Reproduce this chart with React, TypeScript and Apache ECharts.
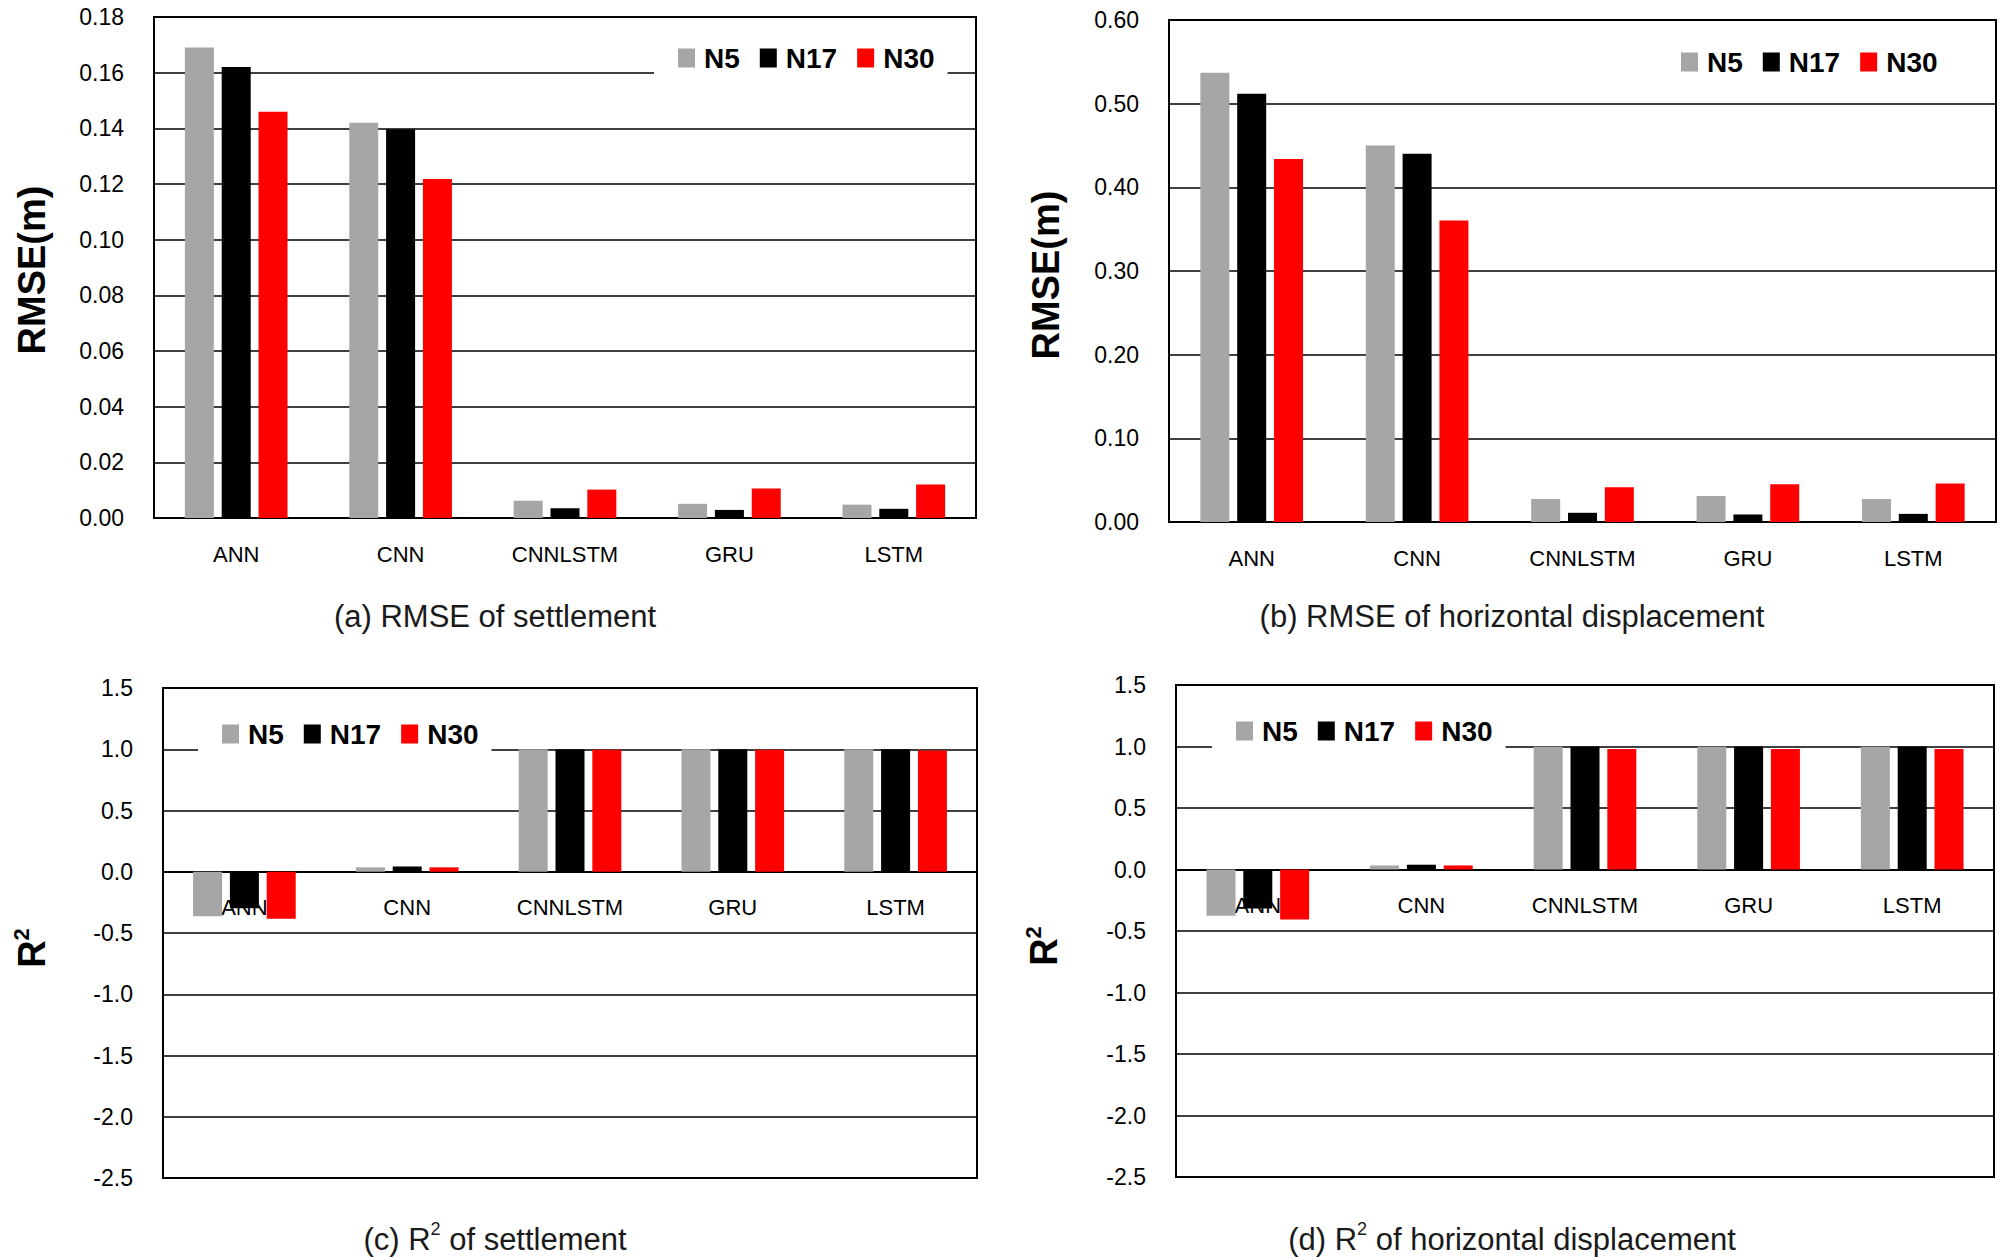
import React, { useEffect, useRef } from 'react';
import * as echarts from 'echarts';

const categories = ['ANN', 'CNN', 'CNNLSTM', 'GRU', 'LSTM'];
const seriesNames = ['N5', 'N17', 'N30'];
const seriesColors = ['#A6A6A6', '#000000', '#FF0000'];

// (a) RMSE of settlement
const rmseSettleN5 = [0.169, 0.142, 0.0062, 0.0051, 0.0048];
const rmseSettleN17 = [0.162, 0.1397, 0.0035, 0.0029, 0.0033];
const rmseSettleN30 = [0.146, 0.1218, 0.0102, 0.0106, 0.012];

// (b) RMSE of horizontal displacement
const rmseHorizN5 = [0.537, 0.45, 0.0275, 0.031, 0.0275];
const rmseHorizN17 = [0.512, 0.44, 0.011, 0.009, 0.0097];
const rmseHorizN30 = [0.434, 0.3605, 0.0415, 0.045, 0.046];

// (c) R2 of settlement
const r2SettleN5 = [-0.363, 0.036, 0.999, 0.999, 0.999];
const r2SettleN17 = [-0.297, 0.043, 1.0, 1.0, 1.0];
const r2SettleN30 = [-0.383, 0.036, 0.996, 0.996, 0.99];

// (d) R2 of horizontal displacement
const r2HorizN5 = [-0.377, 0.033, 0.998, 0.998, 0.998];
const r2HorizN17 = [-0.318, 0.039, 1.0, 1.0, 1.0];
const r2HorizN30 = [-0.407, 0.033, 0.98, 0.98, 0.98];

const FONT = '"Liberation Sans", Arial, sans-serif';

const panels = [
  {
    grid: { left: 154, top: 17, width: 822, height: 501 },
    y: { min: 0, max: 0.18, interval: 0.02, decimals: 2 },
    data: [rmseSettleN5, rmseSettleN17, rmseSettleN30],
    legend: { left: 654, top: 33 },
    title: { x: 495, y: 616, pre: '(a) RMSE of settlement', sup: '', post: '' },
    yName: { x: 32, y: 270, main: 'RMSE(m)', sup: '' },
  },
  {
    grid: { left: 1169, top: 20, width: 827, height: 502 },
    y: { min: 0, max: 0.6, interval: 0.1, decimals: 2 },
    data: [rmseHorizN5, rmseHorizN17, rmseHorizN30],
    legend: { left: 1657, top: 37 },
    title: { x: 1512, y: 616, pre: '(b) RMSE of horizontal displacement', sup: '', post: '' },
    yName: { x: 1046, y: 275, main: 'RMSE(m)', sup: '' },
  },
  {
    grid: { left: 163, top: 688, width: 814, height: 490 },
    y: { min: -2.5, max: 1.5, interval: 0.5, decimals: 1 },
    data: [r2SettleN5, r2SettleN17, r2SettleN30],
    legend: { left: 198, top: 709 },
    title: { x: 495, y: 1239, pre: '(c) R', sup: '2', post: ' of settlement' },
    yName: { x: 32, y: 948, main: 'R', sup: '2' },
  },
  {
    grid: { left: 1176, top: 685, width: 818, height: 492 },
    y: { min: -2.5, max: 1.5, interval: 0.5, decimals: 1 },
    data: [r2HorizN5, r2HorizN17, r2HorizN30],
    legend: { left: 1212, top: 706 },
    title: { x: 1512, y: 1239, pre: '(d) R', sup: '2', post: ' of horizontal displacement' },
    yName: { x: 1044, y: 946, main: 'R', sup: '2' },
  },
];

function buildOption() {
  const grid: any[] = [];
  const xAxis: any[] = [];
  const yAxis: any[] = [];
  const series: any[] = [];
  const legend: any[] = [];
  const graphic: any[] = [];

  panels.forEach((p, i) => {
    grid.push({
      ...p.grid,
      show: true,
      borderColor: '#000',
      borderWidth: 2,
      backgroundColor: 'transparent',
      containLabel: false,
    });
    // place the category axis on the value axis' zero
    const zeroOffset = p.y.min < 0 ? -(p.grid.height * (0 - p.y.min)) / (p.y.max - p.y.min) : 0;
    xAxis.push({
      type: 'category',
      gridIndex: i,
      data: categories,
      position: 'bottom',
      offset: zeroOffset,
      axisLine: { onZero: false, lineStyle: { color: '#000', width: 2 } },
      axisTick: { show: false },
      axisLabel: { margin: 25, fontSize: 22, color: '#000', fontFamily: FONT, interval: 0 },
      splitLine: { show: false },
    });
    const dec = p.y.decimals;
    yAxis.push({
      type: 'value',
      gridIndex: i,
      min: p.y.min,
      max: p.y.max,
      interval: p.y.interval,
      axisLine: { show: false },
      axisTick: { show: false },
      axisLabel: {
        margin: 30,
        fontSize: 23,
        color: '#000',
        fontFamily: FONT,
        formatter: (v: number) => v.toFixed(dec),
      },
      splitLine: { show: true, lineStyle: { color: '#000', width: 1.6 } },
    });
    p.data.forEach((vals, k) => {
      series.push({
        type: 'bar',
        name: seriesNames[k],
        xAxisIndex: i,
        yAxisIndex: i,
        data: vals,
        barWidth: 29,
        barGap: '27%',
        itemStyle: { color: seriesColors[k] },
      });
    });
    legend.push({
      data: seriesNames,
      left: p.legend.left,
      top: p.legend.top,
      orient: 'horizontal',
      backgroundColor: '#fff',
      padding: [10, 13, 10, 24],
      itemWidth: 17,
      itemHeight: 19,
      itemGap: 20,
      icon: 'rect',
      selectedMode: false,
      textStyle: {
        fontSize: 28,
        fontWeight: 'bold',
        fontFamily: FONT,
        color: '#000',
        lineHeight: 30,
        padding: [0, 0, 0, 4],
      },
    });

    const t = p.title;
    const titleText = t.sup
      ? `{n|${t.pre}}{s|${t.sup}}{n|${t.post}}`
      : `{n|${t.pre}}`;
    graphic.push({
      type: 'text',
      x: t.x,
      y: t.y,
      style: {
        text: titleText,
        align: 'center',
        verticalAlign: 'middle',
        textAlign: 'center',
        textVerticalAlign: 'middle',
        fill: '#1a1a1a',
        rich: {
          n: { fontSize: 31, fontFamily: FONT, lineHeight: 38, fill: '#1a1a1a', color: '#1a1a1a' },
          s: { fontSize: 18, fontFamily: FONT, lineHeight: 20, verticalAlign: 'top', fill: '#1a1a1a', color: '#1a1a1a' },
        },
      },
    });

    const yn = p.yName;
    const ynText = yn.sup ? `{m|${yn.main}}{s|${yn.sup}}` : `{m|${yn.main}}`;
    graphic.push({
      type: 'text',
      x: yn.x,
      y: yn.y,
      rotation: Math.PI / 2,
      style: {
        text: ynText,
        align: 'center',
        verticalAlign: 'middle',
        textAlign: 'center',
        textVerticalAlign: 'middle',
        fill: '#000',
        rich: {
          m: { fontSize: 38, fontWeight: 'bold', fontFamily: FONT, lineHeight: 44, fill: '#000', color: '#000' },
          s: { fontSize: 22, fontWeight: 'bold', fontFamily: FONT, lineHeight: 24, verticalAlign: 'top', fill: '#000', color: '#000' },
        },
      },
    });
  });

  return {
    animation: false,
    backgroundColor: '#fff',
    textStyle: { fontFamily: FONT },
    grid,
    xAxis,
    yAxis,
    series,
    legend,
    graphic,
  };
}

export default function App() {
  const ref = useRef<HTMLDivElement>(null);
  useEffect(() => {
    document.body.style.margin = '0';
    if (!ref.current) return;
    const chart = echarts.init(ref.current, undefined, { renderer: 'svg' });
    chart.setOption(buildOption() as any);
    return () => {
      chart.dispose();
    };
  }, []);
  return <div ref={ref} style={{ width: 2008, height: 1259, background: '#fff' }} />;
}
